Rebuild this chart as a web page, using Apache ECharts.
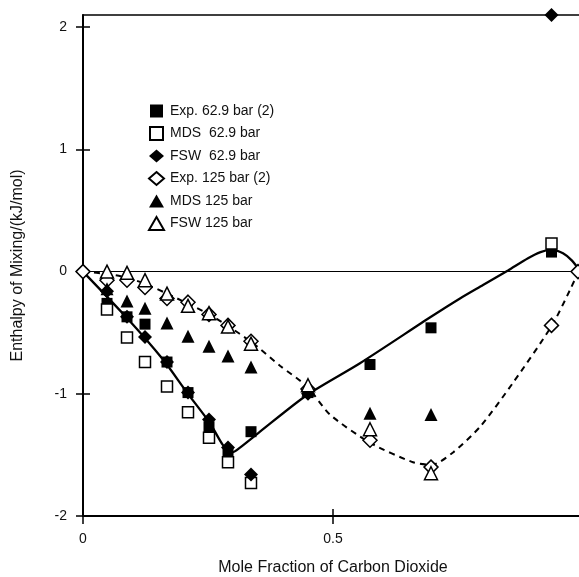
<!DOCTYPE html>
<html>
<head>
<meta charset="utf-8">
<script src="https://cdn.jsdelivr.net/npm/echarts@6/dist/echarts.min.js"></script>
<style>html,body{margin:0;padding:0;background:#fff}#c{width:579px;height:577px}</style>
</head>
<body>
<div id="c"></div>
<script>
// ---- data ----
const exp629X = [0.048, 0.088, 0.124, 0.168, 0.21, 0.252, 0.29, 0.336, 0.45, 0.574, 0.696, 0.937];
const exp629Y = [-0.26, -0.37, -0.43, -0.74, -0.99, -1.27, -1.48, -1.31, -0.99, -0.76, -0.46, 0.16];

const mds629X = [0.048, 0.088, 0.124, 0.168, 0.21, 0.252, 0.29, 0.336, 0.937];
const mds629Y = [-0.31, -0.54, -0.74, -0.94, -1.15, -1.36, -1.56, -1.73, 0.23];

const fsw629X = [0.048, 0.088, 0.124, 0.168, 0.21, 0.252, 0.29, 0.336, 0.45, 0.937];
const fsw629Y = [-0.16, -0.37, -0.535, -0.74, -0.99, -1.21, -1.44, -1.66, -1.0, 2.1];

const exp125X = [0, 0.048, 0.088, 0.124, 0.168, 0.21, 0.252, 0.29, 0.336, 0.45, 0.574, 0.696, 0.937, 0.99];
const exp125Y = [0, -0.07, -0.07, -0.13, -0.22, -0.25, -0.35, -0.44, -0.57, -0.96, -1.38, -1.60, -0.44, 0];

const mds125X = [0.048, 0.088, 0.124, 0.168, 0.21, 0.252, 0.29, 0.336, 0.45, 0.574, 0.696];
const mds125Y = [-0.14, -0.24, -0.30, -0.42, -0.53, -0.61, -0.69, -0.78, -0.97, -1.16, -1.17];

const fsw125X = [0.048, 0.088, 0.124, 0.168, 0.21, 0.252, 0.29, 0.336, 0.45, 0.574, 0.696];
const fsw125Y = [0.0, -0.01, -0.07, -0.18, -0.28, -0.34, -0.45, -0.59, -0.93, -1.29, -1.65];

// fitted curves
const fitSolidX = [0, 0.088, 0.16, 0.208, 0.254, 0.28, 0.298, 0.314, 0.354, 0.448, 0.554, 0.696, 0.754, 0.80, 0.85, 0.89, 0.915, 0.937, 0.96, 0.978, 0.995];
const fitSolidY = [0, -0.38, -0.72, -0.99, -1.24, -1.42, -1.48, -1.44, -1.31, -1.01, -0.75, -0.37, -0.22, -0.11, 0.01, 0.11, 0.16, 0.18, 0.15, 0.09, 0.0];

const fitDashX = [0, 0.05, 0.088, 0.124, 0.168, 0.248, 0.288, 0.338, 0.394, 0.448, 0.494, 0.574, 0.66, 0.698, 0.74, 0.794, 0.86, 0.938, 0.974, 0.992];
const fitDashY = [0, -0.02, -0.05, -0.10, -0.18, -0.34, -0.44, -0.58, -0.77, -0.94, -1.17, -1.40, -1.56, -1.58, -1.48, -1.27, -0.91, -0.44, -0.15, 0.01];

const yTicks = [-2, -1, 0, 1, 2];
const xTicks = [0, 0.5];

const names = ['Exp. 62.9 bar (2)', 'MDS  62.9 bar', 'FSW  62.9 bar', 'Exp. 125 bar (2)', 'MDS 125 bar', 'FSW 125 bar'];

// ---- chart ----
const zip = (xs, ys) => xs.map((x, i) => [x, ys[i]]);
const FONT = '"Liberation Sans", Arial, Helvetica, sans-serif';
const filled = {color: '#000', opacity: 1};
const open = {color: '#fff', borderColor: '#000', borderWidth: 1.5, opacity: 1};
const SQ = 'path://M0,0 L12,0 L12,12 L0,12 Z';
const legendIcons = [SQ, SQ, 'diamond', 'diamond', 'triangle', 'triangle'];

function sc(name, xs, ys, symbol, size, style, z) {
  return {name, type: 'scatter', data: zip(xs, ys), symbol, symbolSize: size,
    itemStyle: style, z: z, clip: false, emphasis: {disabled: true}};
}

const chart = echarts.init(document.getElementById('c'), null, {renderer: 'canvas'});
chart.setOption({
  animation: false,
  backgroundColor: '#fff',
  textStyle: {fontFamily: FONT},
  grid: {left: 83, width: 500, top: 15, height: 501, show: false, containLabel: false, outerBoundsMode: 'none'},
  legend: {
    data: names.map((n, i) => ({name: n, icon: legendIcons[i]})),
    orient: 'vertical', left: 148, top: 104, padding: 0,
    itemWidth: 15, itemHeight: 13, itemGap: 8, symbolKeepAspect: true,
    textStyle: {fontFamily: FONT, fontSize: 14, color: '#111', lineHeight: 14, padding: [0, 0, 0, 1]},
    selectedMode: false
  },
  xAxis: [
    {type: 'value', min: 0, max: 1, interval: 0.5,
     name: 'Mole Fraction of Carbon Dioxide', nameLocation: 'middle', nameGap: 44,
     nameTextStyle: {fontFamily: FONT, fontSize: 16, color: '#111'},
     axisLine: {show: true, onZero: false, lineStyle: {color: '#000', width: 2}},
     axisTick: {show: true, inside: false, length: 8, lineStyle: {color: '#000', width: 1.5}, customValues: xTicks},
     axisLabel: {fontFamily: FONT, fontSize: 14, color: '#111', margin: 16, customValues: xTicks, formatter: v => String(v)},
     splitLine: {show: false}},
    {type: 'value', min: 0, max: 1, interval: 0.5, position: 'bottom',
     axisLine: {show: false, onZero: false}, axisLabel: {show: false}, splitLine: {show: false},
     axisTick: {show: true, inside: true, length: 7, lineStyle: {color: '#000', width: 1.5}, customValues: xTicks}},
    {type: 'value', min: 0, max: 1, interval: 0.5, position: 'top',
     axisLine: {show: true, onZero: false, lineStyle: {color: '#000', width: 1.5}},
     axisLabel: {show: false}, splitLine: {show: false}, axisTick: {show: false}}
  ],
  yAxis: [
    {type: 'value', min: -2, max: 2.1, interval: 1,
     name: 'Enthalpy of Mixing/(kJ/mol)', nameLocation: 'middle', nameGap: 57,
     nameTextStyle: {fontFamily: FONT, fontSize: 16, color: '#111'},
     axisLine: {show: true, onZero: false, lineStyle: {color: '#000', width: 2}},
     axisTick: {show: true, inside: false, length: 7, lineStyle: {color: '#000', width: 1.5}, customValues: yTicks},
     axisLabel: {fontFamily: FONT, fontSize: 14, color: '#111', margin: 16, customValues: yTicks},
     splitLine: {show: false}},
    {type: 'value', min: -2, max: 2.1, interval: 1, position: 'left',
     axisLine: {show: false, onZero: false}, axisLabel: {show: false}, splitLine: {show: false},
     axisTick: {show: true, inside: true, length: 7, lineStyle: {color: '#000', width: 1.5}, customValues: yTicks}}
  ],
  series: [
    {type: 'line', data: zip(fitSolidX, fitSolidY), smooth: 0.25, symbol: 'none', silent: true,
     lineStyle: {color: '#000', width: 2.3}, z: 2,
     markLine: {silent: true, symbol: 'none', label: {show: false},
       lineStyle: {color: '#000', width: 1, type: 'solid'}, data: [{yAxis: 0}]}},
    {type: 'line', data: zip(fitDashX, fitDashY), smooth: 0.25, symbol: 'none', silent: true,
     lineStyle: {color: '#000', width: 2, type: [6, 5]}, z: 2},
    sc(names[0], exp629X, exp629Y, 'rect', 11, filled, 3),
    sc(names[1], mds629X, mds629Y, 'rect', 11, open, 4),
    sc(names[2], fsw629X, fsw629Y, 'diamond', 14, filled, 5),
    sc(names[3], exp125X, exp125Y, 'diamond', 14, open, 6),
    sc(names[4], mds125X, mds125Y, 'triangle', 13, filled, 7),
    sc(names[5], fsw125X, fsw125Y, 'triangle', 13, open, 8)
  ]
});
</script>
</body>
</html>
